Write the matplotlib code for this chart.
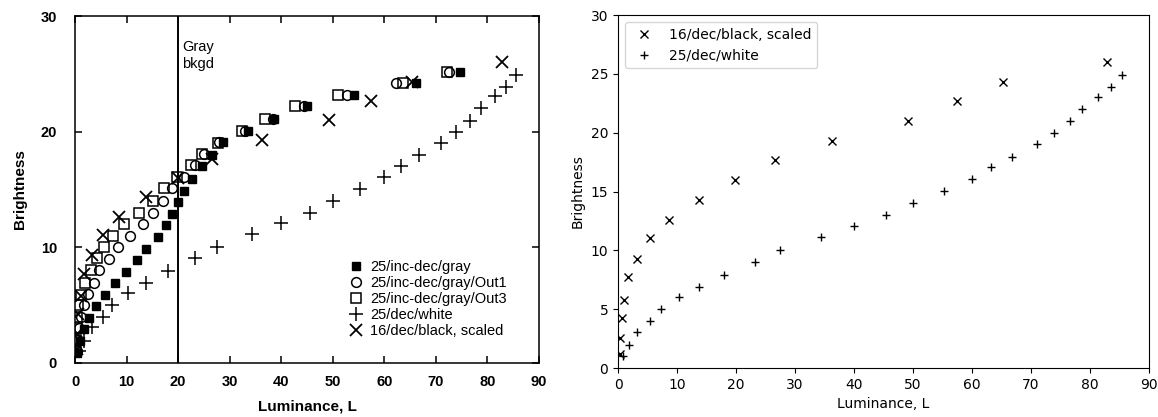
import matplotlib
matplotlib.use("Agg")
from matplotlib import pyplot as plt

# 25/inc-dec/gray (filled squares)
gray_lum = [0.4, 0.9, 1.7, 2.8, 4.1, 5.9, 7.7, 9.9, 12.0, 13.8, 16.0, 17.6, 18.8,
            20.0, 21.2, 22.7, 24.6, 26.5, 28.7, 33.5, 38.6, 45.0, 54.2, 66.2, 74.6]
gray_bri = [0.9, 1.9, 2.9, 3.9, 4.9, 5.9, 6.9, 7.9, 8.9, 9.9, 10.9, 11.9, 12.9,
            13.9, 14.9, 15.9, 17.0, 18.0, 19.1, 20.1, 21.1, 22.2, 23.2, 24.2, 25.2]

# 25/inc-dec/gray/Out1 (open circles)
out1_lum = [0.3, 0.5, 0.8, 1.1, 1.8, 2.6, 3.7, 4.7, 6.6, 8.4, 10.7, 13.2, 15.2,
            17.0, 18.9, 21.2, 23.2, 25.0, 28.0, 33.0, 38.4, 44.4, 52.7, 62.3, 72.6]
out1_bri = [1.0, 2.0, 3.0, 4.0, 5.0, 6.0, 6.9, 8.0, 9.0, 10.0, 11.0, 12.0, 13.0,
            14.0, 15.1, 16.1, 17.1, 18.1, 19.1, 20.1, 21.1, 22.2, 23.2, 24.2, 25.2]

# 25/inc-dec/gray/Out3 (open squares)
out3_lum = [0.1, 0.2, 0.3, 0.4, 0.65, 1.1, 1.95, 3.05, 4.3, 5.6, 7.3, 9.5, 12.5,
            15.2, 17.3, 19.7, 22.5, 24.6, 27.7, 32.4, 36.8, 42.6, 51.0, 63.6, 72.1]
out3_bri = [1.0, 2.0, 3.0, 4.0, 5.0, 5.9, 6.9, 8.0, 9.1, 10.0, 11.0, 12.0, 13.0,
            14.0, 15.1, 16.1, 17.1, 18.1, 19.0, 20.1, 21.1, 22.2, 23.2, 24.2, 25.2]

# 25/dec/white (plus)
white_lum = [0.85, 1.8, 3.2, 5.5, 7.2, 10.3, 13.8, 18.0, 23.3, 27.5, 34.4, 40.0,
             45.5, 50.0, 55.3, 60.0, 63.2, 66.7, 71.0, 73.9, 76.6, 78.7, 81.4, 83.5, 85.5]
white_bri = [1.0, 1.93, 3.1, 3.97, 5.05, 6.07, 6.92, 7.94, 9.04, 10.0, 11.14, 12.08,
             13.0, 14.03, 15.03, 16.05, 17.07, 17.97, 19.02, 20.0, 20.95, 22.02, 23.05, 23.9, 24.92]

# 16/dec/black, scaled (x)
black_lum = [0.4, 0.34, 0.62, 1.07, 1.7, 3.2, 5.5, 8.6, 13.8, 19.9, 26.6, 36.3,
             49.2, 57.4, 65.3, 82.9]
black_bri = [1.22, 2.55, 4.28, 5.76, 7.71, 9.3, 11.03, 12.62, 14.32, 15.96, 17.66,
             19.31, 21.0, 22.68, 24.32, 26.02]

gray_bkgd = 20.0

fig = plt.figure(figsize=(11.58, 4.17), dpi=100)

# LEFT: the scanned original
old_font = "Liberation Sans"
ax1 = fig.add_axes([0.0648, 0.1295, 0.4007, 0.832])
ax1.plot(gray_lum, gray_bri, "s", color="black", ms=5.2, label="25/inc-dec/gray")
ax1.plot(out1_lum, out1_bri, "o", mfc="none", mec="black", mew=1.1, ms=7,
         label="25/inc-dec/gray/Out1")
ax1.plot(out3_lum, out3_bri, "s", mfc="none", mec="black", mew=1.1, ms=7,
         label="25/inc-dec/gray/Out3")
ax1.plot(white_lum, white_bri, "+", color="black", mew=1.1, ms=9.5, label="25/dec/white")
ax1.plot(black_lum, black_bri, "x", color="black", mew=1.3, ms=9,
         label="16/dec/black, scaled")
ax1.axvline(gray_bkgd, color="black", lw=1.4)
ax1.text(gray_bkgd + 0.8, 27.9, "Gray\nbkgd", family=old_font, fontsize=10.5,
         va="top", ha="left", linespacing=1.25)

ax1.set_xlim(0, 90)
ax1.set_ylim(0, 30)
ax1.set_xticks(range(0, 91, 10))
ax1.set_yticks([0, 10, 20, 30])
ax1.tick_params(direction="in", length=5, width=1.1, top=True, right=True,
                labelsize=10.5)
ax1.tick_params(axis="x", pad=9)
ax1.tick_params(axis="y", pad=13)
for lbl in ax1.get_xticklabels() + ax1.get_yticklabels():
    lbl.set_family(old_font)
    lbl.set_fontweight("bold")
for s in ax1.spines.values():
    s.set_linewidth(1.1)
ax1.set_xlabel("Luminance, L", family=old_font, fontweight="bold", fontsize=11,
               labelpad=7)
ax1.set_ylabel("Brightness", family=old_font, fontweight="bold", fontsize=11,
               labelpad=10)
ax1.legend(loc="upper left", bbox_to_anchor=(0.59, 0.297), frameon=False,
           prop={"family": old_font, "size": 10.5}, borderpad=0, borderaxespad=0,
           handlelength=1.0, handletextpad=0.45, labelspacing=0.14)

# RIGHT: matplotlib recreation
ax2 = fig.add_axes([0.5337, 0.1175, 0.4585, 0.8465])
ax2.plot(black_lum, black_bri, "x", color="black", label="16/dec/black, scaled")
ax2.plot(white_lum, white_bri, "+", color="black", label="25/dec/white")
ax2.set_xlim(0, 90)
ax2.set_ylim(0, 30)
ax2.set_xlabel("Luminance, L")
ax2.set_ylabel("Brightness")
ax2.legend(loc="upper left")

fig.savefig("out.png", dpi=100)
